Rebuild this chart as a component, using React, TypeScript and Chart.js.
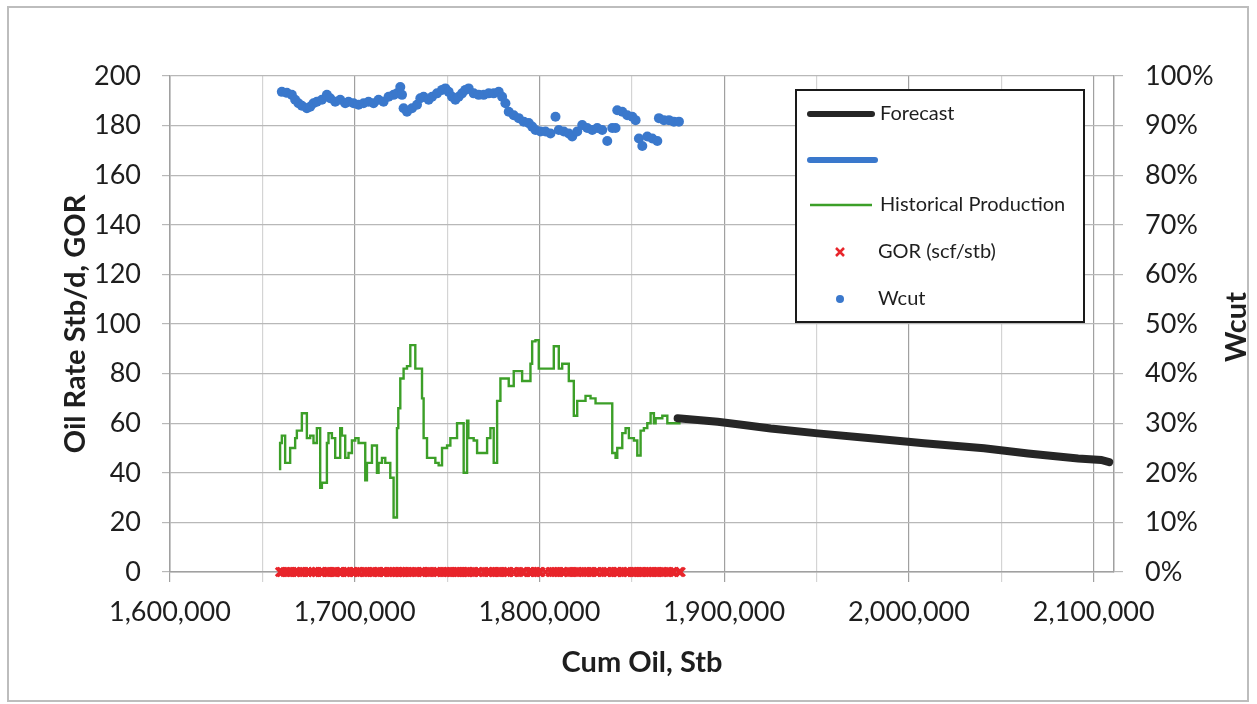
import React, { useEffect, useRef } from "react";
import { Chart, registerables } from "chart.js";

Chart.register(...registerables);

// ---------- data ----------
const xGridValues = [1600000, 1650000, 1700000, 1750000, 1800000, 1850000, 1900000, 1950000, 2000000, 2050000, 2100000];
const xTickLabels = ["1,600,000", "", "1,700,000", "", "1,800,000", "", "1,900,000", "", "2,000,000", "", "2,100,000"];
const leftTickLabels = ["0", "20", "40", "60", "80", "100", "120", "140", "160", "180", "200"];
const rightTickLabels = ["0%", "10%", "20%", "30%", "40%", "50%", "60%", "70%", "80%", "90%", "100%"];

const histCum = [
  1659600, 1660540, 1662330, 1665040, 1667750, 1668670, 1671380, 1674090, 1675880, 1677670,
  1679510, 1681300, 1682220, 1684930, 1685800, 1687640, 1689430, 1692140, 1693060, 1694850,
  1696640, 1698480, 1700270, 1702060, 1705690, 1706610, 1709320, 1712030, 1712900, 1714740,
  1716530, 1719240, 1721030, 1722870, 1723580, 1724660, 1726450, 1728290, 1730080, 1732790,
  1736420, 1737290, 1739130, 1743630, 1745420, 1747260, 1749970, 1751760, 1755390, 1757180,
  1758970, 1760810, 1761510, 1764390, 1766230, 1771650, 1773440, 1775230, 1777070, 1778860,
  1783360, 1786070, 1790620, 1795120, 1796040, 1797830, 1799620, 1807750, 1810460, 1812300,
  1815880, 1818590, 1820430, 1824930, 1827640, 1830350, 1835770, 1839400, 1841190, 1842110,
  1844820, 1846610, 1848400, 1851110, 1852950, 1854740, 1856530, 1858370, 1860160, 1861950,
  1862870, 1866500, 1869210, 1871920, 1876420,
];
const histRate = [
  41, 52, 55, 44, 50, 54, 57, 64, 54, 55,
  52, 58, 34, 36, 52, 56, 54, 46, 58, 55,
  46, 48, 53, 54, 52, 37, 44, 51, 40, 44,
  46, 44, 38, 22, 58, 66, 78, 82, 83, 91.5,
  82, 70, 54, 46, 44, 43, 50, 51, 54, 60,
  60, 40, 61, 54, 53, 48, 54, 58, 44, 69,
  78, 75, 81, 77, 84, 93, 93.5, 82, 91, 82,
  84, 77, 63, 69, 71, 70, 68, 68, 48, 46,
  50, 56, 58, 54, 53, 47, 57, 58, 60, 64,
  60, 62, 63, 60, 60,
];

const forecastCum = [1874790, 1896470, 1910570, 1925200, 1950670, 1979400, 2008130, 2040650, 2064490, 2091590, 2104060, 2108400];
const forecastRate = [62, 60.6, 59.3, 57.9, 55.9, 53.9, 51.9, 49.9, 47.8, 45.8, 45.2, 44.3];

const wcutCum = [
  1660540, 1663250, 1665960, 1667750, 1669540, 1671380, 1674090, 1675880, 1677670, 1679510,
  1682220, 1684930, 1686720, 1689430, 1692140, 1694850, 1696640, 1699350, 1702060, 1704770,
  1707480, 1710190, 1712900, 1715610, 1718320, 1721030, 1722870, 1724660, 1725580, 1726450,
  1728290, 1731000, 1733710, 1735500, 1737290, 1740000, 1741840, 1744550, 1747260, 1749050,
  1750840, 1752680, 1754470, 1756260, 1758100, 1759890, 1761680, 1764390, 1767100, 1769810,
  1772520, 1775230, 1777940, 1779780, 1781570, 1783360, 1786070, 1788780, 1791490, 1794200,
  1796040, 1797830, 1800540, 1803250, 1805960, 1808670, 1810460, 1813170, 1815880, 1817720,
  1820430, 1823140, 1825850, 1828560, 1831270, 1833980, 1836690, 1839400, 1841190, 1842110,
  1844820, 1847530, 1850240, 1852030, 1853820, 1855660, 1858370, 1861080, 1863790, 1864660,
  1867370, 1870080, 1872790, 1875500,
];
const wcutPct = [
  96.8, 96.6, 96.2, 95.2, 94.5, 94.0, 93.5, 93.8, 94.5, 94.8,
  95.2, 96.2, 95.5, 94.8, 95.2, 94.5, 94.8, 94.5, 94.2, 94.5,
  94.8, 94.5, 95.2, 94.8, 95.8, 96.2, 96.5, 97.8, 96.2, 93.5,
  92.8, 93.5, 94.2, 95.5, 95.8, 95.2, 95.8, 96.5, 97.2, 97.5,
  96.8, 95.8, 95.2, 95.8, 96.5, 97.2, 97.5, 96.5, 96.2, 96.2,
  96.5, 96.5, 96.8, 95.8, 94.5, 92.8, 92.1, 91.5, 90.8, 90.5,
  89.8, 89.1, 88.8, 88.8, 88.4, 91.8, 89.1, 88.8, 88.4, 87.8,
  88.8, 90.1, 89.5, 89.1, 89.5, 89.1, 86.9, 89.5, 89.5, 93.1,
  92.8, 92.1, 91.8, 91.1, 87.4, 85.9, 87.8, 87.4, 86.9, 91.5,
  91.1, 91.1, 90.8, 90.8,
];

// GOR is recorded at every production / water-cut sample and reads 0 scf/stb throughout
const gorCum = [...histCum, ...wcutCum].sort((a, b) => a - b);
const GOR_READING = 0;

const legendLabels = ["Forecast", "", "Historical Production", "GOR (scf/stb)", "Wcut"];

const X_MIN = 1600000;
const X_MAX = 2111000;

// ---------- styles ----------
const FONT = "Lato, 'Open Sans', sans-serif";
const TEXT = "#1e1e1e";
const BLACK = "#262626";
const BLUE = "#3a78cc";
const GREEN = "#3c9f28";
const RED = "#e8252b";

const pairs = (xs: number[], ys: number[]) => xs.map((x, i) => ({ x, y: ys[i] }));

const decorPlugin = {
  id: "decor",
  afterDraw(chart: any) {
    const ctx = chart.ctx as CanvasRenderingContext2D;
    const area = chart.chartArea;
    ctx.save();
    // outer border
    ctx.strokeStyle = "#bdbdbd";
    ctx.lineWidth = 2;
    ctx.strokeRect(8, 7, 1240, 694);

    // right axis title (reads bottom-to-top)
    ctx.save();
    ctx.translate(chart.width - 20, (area.top + area.bottom) / 2 + 3);
    ctx.rotate(-Math.PI / 2);
    ctx.font = `bold 29px ${FONT}`;
    ctx.fillStyle = TEXT;
    ctx.textAlign = "center";
    ctx.textBaseline = "middle";
    ctx.fillText("Wcut", 0, 0);
    ctx.restore();

    // legend
    const bx = area.right - 318;
    const by = area.top + 14;
    const bw = 288;
    const bh = 232;
    ctx.fillStyle = "#ffffff";
    ctx.fillRect(bx, by, bw, bh);
    ctx.strokeStyle = "#1a1a1a";
    ctx.lineWidth = 2;
    ctx.strokeRect(bx, by, bw, bh);

    const rows = [24, 70, 115, 162, 209];
    ctx.font = `20px ${FONT}`;
    ctx.textBaseline = "middle";
    ctx.textAlign = "left";

    // Forecast
    ctx.lineCap = "round";
    ctx.strokeStyle = BLACK;
    ctx.lineWidth = 6;
    ctx.beginPath();
    ctx.moveTo(bx + 14, by + rows[0]);
    ctx.lineTo(bx + 76, by + rows[0]);
    ctx.stroke();
    // blue unnamed line
    ctx.strokeStyle = BLUE;
    ctx.beginPath();
    ctx.moveTo(bx + 14, by + rows[1]);
    ctx.lineTo(bx + 79, by + rows[1]);
    ctx.stroke();
    // historical
    ctx.lineCap = "butt";
    ctx.strokeStyle = GREEN;
    ctx.lineWidth = 2.5;
    ctx.beginPath();
    ctx.moveTo(bx + 14, by + rows[2]);
    ctx.lineTo(bx + 76, by + rows[2]);
    ctx.stroke();
    // GOR cross
    const cx = bx + 44;
    ctx.strokeStyle = RED;
    ctx.lineWidth = 2.5;
    ctx.beginPath();
    ctx.moveTo(cx - 4, by + rows[3] - 4);
    ctx.lineTo(cx + 4, by + rows[3] + 4);
    ctx.moveTo(cx + 4, by + rows[3] - 4);
    ctx.lineTo(cx - 4, by + rows[3] + 4);
    ctx.stroke();
    // Wcut dot
    ctx.fillStyle = BLUE;
    ctx.beginPath();
    ctx.arc(cx, by + rows[4], 4, 0, Math.PI * 2);
    ctx.fill();

    ctx.fillStyle = TEXT;
    ctx.fillText(legendLabels[0], bx + 84, by + rows[0]);
    ctx.fillText(legendLabels[2], bx + 84, by + rows[2]);
    ctx.fillText(legendLabels[3], bx + 82, by + rows[3]);
    ctx.fillText(legendLabels[4], bx + 82, by + rows[4]);
    ctx.restore();
  },
};

export default function App() {
  const ref = useRef<HTMLCanvasElement | null>(null);

  useEffect(() => {
    const canvas = ref.current;
    if (!canvas) return;
    const tickFont = { family: FONT, size: 27 };
    const titleFont = { family: FONT, size: 29, weight: "bold" as const };

    const chart = new Chart(canvas, {
      type: "line",
      data: {
        datasets: [
          {
            label: "Wcut",
            data: pairs(wcutCum, wcutPct),
            yAxisID: "y1",
            showLine: false,
            clip: false,
            pointStyle: "circle",
            pointRadius: 5,
            pointBackgroundColor: BLUE,
            pointBorderColor: BLUE,
            pointBorderWidth: 0,
            borderColor: BLUE,
            backgroundColor: BLUE,
          },
          {
            label: "GOR (scf/stb)",
            data: gorCum.map((x) => ({ x, y: GOR_READING })),
            yAxisID: "y",
            showLine: false,
            clip: false,
            pointStyle: "crossRot",
            pointRadius: 6,
            pointBorderWidth: 3,
            pointBorderColor: RED,
            borderColor: RED,
            backgroundColor: RED,
          },
          {
            label: "Forecast",
            data: pairs(forecastCum, forecastRate),
            yAxisID: "y",
            borderColor: BLACK,
            borderWidth: 8,
            borderCapStyle: "round",
            pointRadius: 0,
            fill: false,
          },
          {
            label: "Historical Production",
            data: pairs(histCum, histRate),
            yAxisID: "y",
            borderColor: GREEN,
            borderWidth: 2.4,
            stepped: "after",
            pointRadius: 0,
            fill: false,
          },
        ],
      },
      options: {
        responsive: false,
        animation: false,
        events: [],
        layout: { padding: { top: 76, left: 0, right: 0, bottom: 0 } },
        plugins: {
          legend: { display: false },
          tooltip: { enabled: false },
        },
        scales: {
          x: {
            type: "linear",
            position: "bottom",
            min: X_MIN,
            max: X_MAX,
            afterFit: (s: any) => {
              s.height = 132;
            },
            afterBuildTicks: (s: any) => {
              s.ticks = xGridValues.map((value) => ({ value }));
            },
            ticks: {
              autoSkip: false,
              maxRotation: 0,
              minRotation: 0,
              color: TEXT,
              font: tickFont,
              padding: 14,
              callback: (_v: any, i: number) => xTickLabels[i] ?? "",
            },
            grid: {
              color: (c: any) => (c.index % 2 === 0 ? "#a0a0a0" : "#d4d4d4"),
              lineWidth: 1.2,
              tickLength: 10,
            },
            border: { color: "#a0a0a0", width: 1.5 },
            title: {
              display: true,
              text: "Cum Oil, Stb",
              color: TEXT,
              font: titleFont,
              padding: { top: 0, bottom: 24 },
            },
          },
          y: {
            type: "linear",
            position: "left",
            min: 0,
            max: 200,
            afterFit: (s: any) => {
              s.width = 170;
            },
            ticks: {
              stepSize: 20,
              color: TEXT,
              font: tickFont,
              padding: 21,
              callback: (v: any) => leftTickLabels[Math.round(Number(v) / 20)] ?? "",
            },
            grid: { color: "#b8b8b8", lineWidth: 1.2, tickLength: 8 },
            border: { color: "#a0a0a0", width: 1.5 },
            title: {
              display: true,
              text: "Oil Rate Stb/d, GOR",
              color: TEXT,
              font: titleFont,
              padding: { top: 58, bottom: 0 },
            },
          },
          y1: {
            type: "linear",
            position: "right",
            min: 0,
            max: 100,
            afterFit: (s: any) => {
              s.width = 143;
            },
            ticks: {
              stepSize: 10,
              color: TEXT,
              font: tickFont,
              padding: 22,
              callback: (v: any) => rightTickLabels[Math.round(Number(v) / 10)] ?? "",
            },
            grid: { drawOnChartArea: false, color: "#b8b8b8", lineWidth: 1.2, tickLength: 9 },
            border: { color: "#a0a0a0", width: 1.5 },
          },
        },
      },
      plugins: [decorPlugin],
    } as any);

    return () => chart.destroy();
  }, []);

  return (
    <div
      style={{
        position: "fixed",
        left: 0,
        top: 0,
        width: 1257,
        height: 704,
        background: "#ffffff",
      }}
    >
      <canvas ref={ref} width={1257} height={704} style={{ display: "block", width: 1257, height: 704 }} />
    </div>
  );
}
